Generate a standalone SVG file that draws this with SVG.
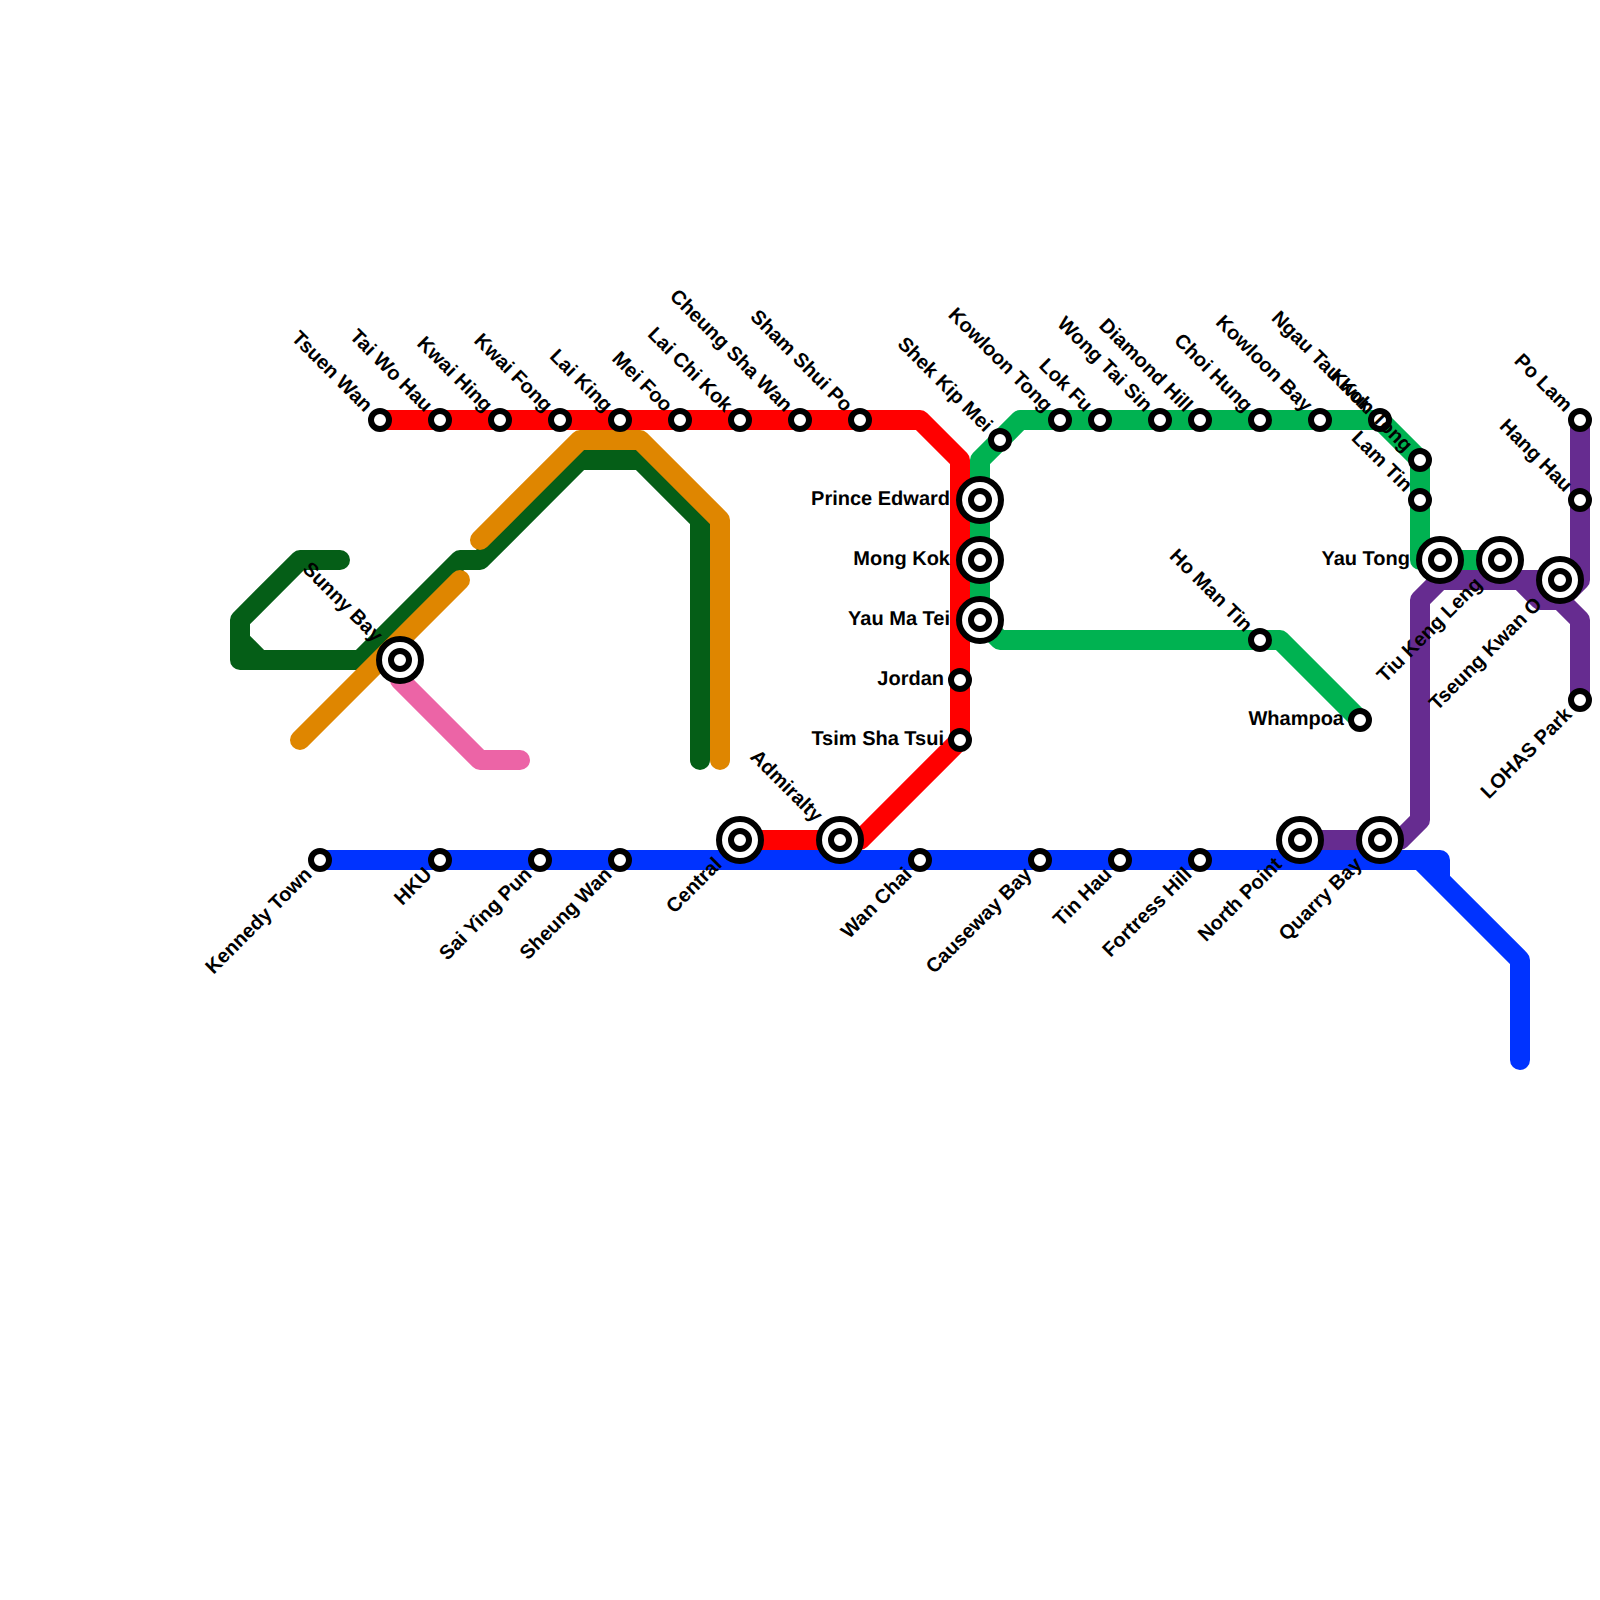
<svg xmlns="http://www.w3.org/2000/svg" width="1600" height="1600" viewBox="0 0 1600 1600">
<style>
.ln{fill:none;stroke-width:20;stroke-linecap:round;stroke-linejoin:round}
.o{fill:#fff;stroke:#000;stroke-width:6}
.s{fill:#fff;stroke:#000;stroke-width:6}
text{font-family:"Liberation Sans",Arial,sans-serif;font-weight:bold;font-size:20px;fill:#000;text-anchor:end;text-rendering:geometricPrecision}
</style>
<rect width="1600" height="1600" fill="#fff"/>
<g id="connectors">
<path class="ln" stroke="#055e17" d="M340 560H300L240 620V660H360L460 560H480L580 460H640L700 520V760M240 640L260 660"/>
<path class="ln" stroke="#df8600" d="M480 540L580 440H640L720 520V760M460 580L300 740"/>
<path class="ln" stroke="#ec64a6" d="M400 660V680L480 760H520"/>
<path class="ln" stroke="#ff0000" d="M380 420H920L960 460V740L860 840H740"/>
<path class="ln" stroke="#00b251" d="M1360 720L1280 640H1000L980 620V460L1020 420H1380L1420 460V560H1500"/>
<path class="ln" stroke="#662c90" d="M1300 840H1400L1420 820V600L1440 580H1560M1580 420V580L1560 600H1540L1520 580M1560 600L1580 620V700"/>
<path class="ln" stroke="#0033ff" d="M320 860H1440V880M1420 860L1520 960V1060"/>
</g>
<g id="tsuen-wan"><circle class="s" cx="380" cy="420" r="9"/><text transform="translate(380 420) rotate(45)" x="-16" y="6">Tsuen Wan</text></g>
<g id="tai-wo-hau"><circle class="s" cx="440" cy="420" r="9"/><text transform="translate(440 420) rotate(45)" x="-16" y="6">Tai Wo Hau</text></g>
<g id="kwai-hing"><circle class="s" cx="500" cy="420" r="9"/><text transform="translate(500 420) rotate(45)" x="-16" y="6">Kwai Hing</text></g>
<g id="kwai-fong"><circle class="s" cx="560" cy="420" r="9"/><text transform="translate(560 420) rotate(45)" x="-16" y="6">Kwai Fong</text></g>
<g id="lai-king"><circle class="s" cx="620" cy="420" r="9"/><text transform="translate(620 420) rotate(45)" x="-16" y="6">Lai King</text></g>
<g id="mei-foo"><circle class="s" cx="680" cy="420" r="9"/><text transform="translate(680 420) rotate(45)" x="-16" y="6">Mei Foo</text></g>
<g id="lai-chi-kok"><circle class="s" cx="740" cy="420" r="9"/><text transform="translate(740 420) rotate(45)" x="-16" y="6">Lai Chi Kok</text></g>
<g id="cheung-sha-wan"><circle class="s" cx="800" cy="420" r="9"/><text transform="translate(800 420) rotate(45)" x="-16" y="6">Cheung Sha Wan</text></g>
<g id="sham-shui-po"><circle class="s" cx="860" cy="420" r="9"/><text transform="translate(860 420) rotate(45)" x="-16" y="6">Sham Shui Po</text></g>
<g id="shek-kip-mei"><circle class="s" cx="1000" cy="440" r="9"/><text transform="translate(1000 440) rotate(45)" x="-16" y="6">Shek Kip Mei</text></g>
<g id="kowloon-tong"><circle class="s" cx="1060" cy="420" r="9"/><text transform="translate(1060 420) rotate(45)" x="-16" y="6">Kowloon Tong</text></g>
<g id="lok-fu"><circle class="s" cx="1100" cy="420" r="9"/><text transform="translate(1100 420) rotate(45)" x="-16" y="6">Lok Fu</text></g>
<g id="wong-tai-sin"><circle class="s" cx="1160" cy="420" r="9"/><text transform="translate(1160 420) rotate(45)" x="-16" y="6">Wong Tai Sin</text></g>
<g id="diamond-hill"><circle class="s" cx="1200" cy="420" r="9"/><text transform="translate(1200 420) rotate(45)" x="-16" y="6">Diamond Hill</text></g>
<g id="choi-hung"><circle class="s" cx="1260" cy="420" r="9"/><text transform="translate(1260 420) rotate(45)" x="-16" y="6">Choi Hung</text></g>
<g id="kowloon-bay"><circle class="s" cx="1320" cy="420" r="9"/><text transform="translate(1320 420) rotate(45)" x="-16" y="6">Kowloon Bay</text></g>
<g id="ngau-tau-kok"><circle class="s" cx="1380" cy="420" r="9"/><text transform="translate(1380 420) rotate(45)" x="-16" y="6">Ngau Tau Kok</text></g>
<g id="kwun-tong"><circle class="s" cx="1420" cy="460" r="9"/><text transform="translate(1420 460) rotate(45)" x="-16" y="6">Kwun Tong</text></g>
<g id="lam-tin"><circle class="s" cx="1420" cy="500" r="9"/><text transform="translate(1420 500) rotate(45)" x="-16" y="6">Lam Tin</text></g>
<g id="po-lam"><circle class="s" cx="1580" cy="420" r="9"/><text transform="translate(1580 420) rotate(45)" x="-16" y="6">Po Lam</text></g>
<g id="hang-hau"><circle class="s" cx="1580" cy="500" r="9"/><text transform="translate(1580 500) rotate(45)" x="-16" y="6">Hang Hau</text></g>
<g id="ho-man-tin"><circle class="s" cx="1260" cy="640" r="9"/><text transform="translate(1260 640) rotate(45)" x="-16" y="6">Ho Man Tin</text></g>
<g id="sunny-bay"><circle class="o" cx="400" cy="660" r="21"/><circle class="s" cx="400" cy="660" r="9"/><text transform="translate(400 660) rotate(45)" x="-30" y="6">Sunny Bay</text></g>
<g id="admiralty"><circle class="o" cx="840" cy="840" r="21"/><circle class="s" cx="840" cy="840" r="9"/><text transform="translate(840 840) rotate(45)" x="-30" y="6">Admiralty</text></g>
<g id="prince-edward"><circle class="o" cx="980" cy="500" r="21"/><circle class="s" cx="980" cy="500" r="9"/><text x="950" y="505">Prince Edward</text></g>
<g id="mong-kok"><circle class="o" cx="980" cy="560" r="21"/><circle class="s" cx="980" cy="560" r="9"/><text x="950" y="565">Mong Kok</text></g>
<g id="yau-ma-tei"><circle class="o" cx="980" cy="620" r="21"/><circle class="s" cx="980" cy="620" r="9"/><text x="950" y="625">Yau Ma Tei</text></g>
<g id="jordan"><circle class="s" cx="960" cy="680" r="9"/><text x="944" y="685">Jordan</text></g>
<g id="tsim-sha-tsui"><circle class="s" cx="960" cy="740" r="9"/><text x="944" y="745">Tsim Sha Tsui</text></g>
<g id="yau-tong"><circle class="o" cx="1440" cy="560" r="21"/><circle class="s" cx="1440" cy="560" r="9"/><text x="1410" y="565">Yau Tong</text></g>
<g id="whampoa"><circle class="s" cx="1360" cy="720" r="9"/><text x="1344" y="725">Whampoa</text></g>
<g id="tiu-keng-leng"><circle class="o" cx="1500" cy="560" r="21"/><circle class="s" cx="1500" cy="560" r="9"/><text transform="translate(1500 560) rotate(-45)" x="-30" y="6">Tiu Keng Leng</text></g>
<g id="tseung-kwan-o"><circle class="o" cx="1560" cy="580" r="21"/><circle class="s" cx="1560" cy="580" r="9"/><text transform="translate(1560 580) rotate(-45)" x="-30" y="6">Tseung Kwan O</text></g>
<g id="lohas-park"><circle class="s" cx="1580" cy="700" r="9"/><text transform="translate(1580 700) rotate(-45)" x="-16" y="6">LOHAS Park</text></g>
<g id="kennedy-town"><circle class="s" cx="320" cy="860" r="9"/><text transform="translate(320 860) rotate(-45)" x="-16" y="6">Kennedy Town</text></g>
<g id="hku"><circle class="s" cx="440" cy="860" r="9"/><text transform="translate(440 860) rotate(-45)" x="-16" y="6">HKU</text></g>
<g id="sai-ying-pun"><circle class="s" cx="540" cy="860" r="9"/><text transform="translate(540 860) rotate(-45)" x="-16" y="6">Sai Ying Pun</text></g>
<g id="sheung-wan"><circle class="s" cx="620" cy="860" r="9"/><text transform="translate(620 860) rotate(-45)" x="-16" y="6">Sheung Wan</text></g>
<g id="central"><circle class="o" cx="740" cy="840" r="21"/><circle class="s" cx="740" cy="840" r="9"/><text transform="translate(740 840) rotate(-45)" x="-30" y="6">Central</text></g>
<g id="wan-chai"><circle class="s" cx="920" cy="860" r="9"/><text transform="translate(920 860) rotate(-45)" x="-16" y="6">Wan Chai</text></g>
<g id="causeway-bay"><circle class="s" cx="1040" cy="860" r="9"/><text transform="translate(1040 860) rotate(-45)" x="-16" y="6">Causeway Bay</text></g>
<g id="tin-hau"><circle class="s" cx="1120" cy="860" r="9"/><text transform="translate(1120 860) rotate(-45)" x="-16" y="6">Tin Hau</text></g>
<g id="fortress-hill"><circle class="s" cx="1200" cy="860" r="9"/><text transform="translate(1200 860) rotate(-45)" x="-16" y="6">Fortress Hill</text></g>
<g id="north-point"><circle class="o" cx="1300" cy="840" r="21"/><circle class="s" cx="1300" cy="840" r="9"/><text transform="translate(1300 840) rotate(-45)" x="-30" y="6">North Point</text></g>
<g id="quarry-bay"><circle class="o" cx="1380" cy="840" r="21"/><circle class="s" cx="1380" cy="840" r="9"/><text transform="translate(1380 840) rotate(-45)" x="-30" y="6">Quarry Bay</text></g>
</svg>
